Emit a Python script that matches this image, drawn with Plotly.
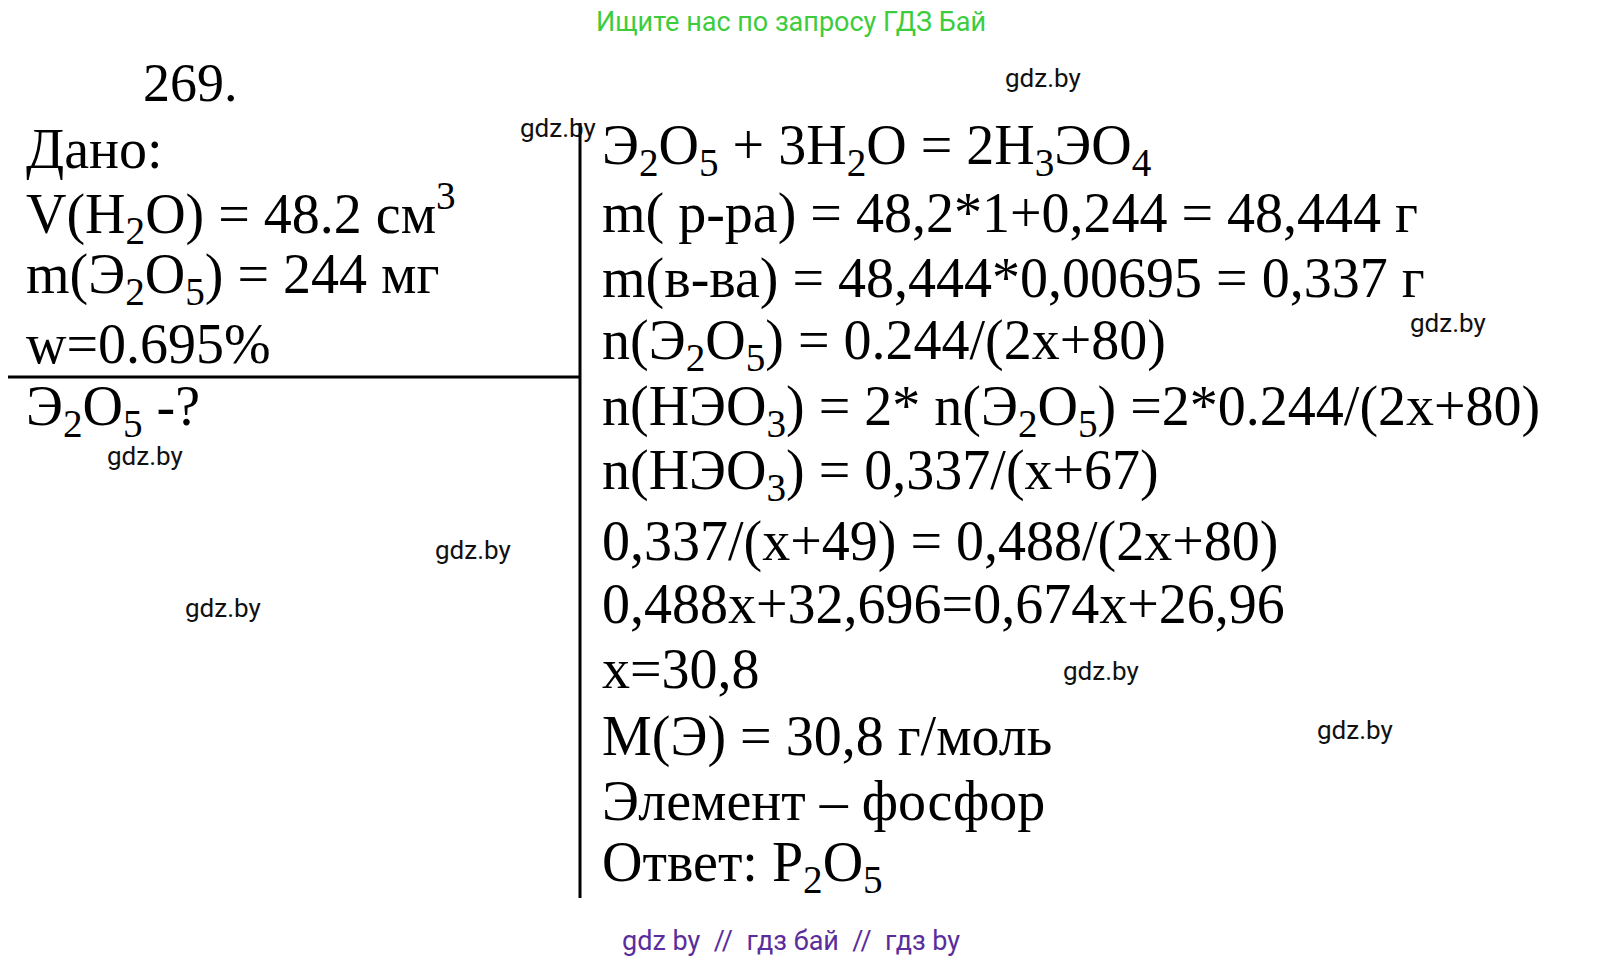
import plotly.graph_objects as go

W, H = 1607, 977

LEFT_LINES = [
    "Дано:",
    "V(H<sub>2</sub>O) = 48.2 см<sup>3</sup>",
    "m(Э<sub>2</sub>O<sub>5</sub>) = 244 мг",
    "w=0.695%",
    "Э<sub>2</sub>O<sub>5</sub> -?",
]
LEFT_Y = [141, 205, 270, 336, 402]

RIGHT_LINES = [
    "Э<sub>2</sub>O<sub>5</sub> + 3H<sub>2</sub>O = 2H<sub>3</sub>ЭO<sub>4</sub>",
    "m( р-ра) = 48,2*1+0,244 = 48,444 г",
    "m(в-ва) = 48,444*0,00695 = 0,337 г",
    "n(Э<sub>2</sub>O<sub>5</sub>) = 0.244/(2x+80)",
    "n(HЭO<sub>3</sub>) = 2* n(Э<sub>2</sub>O<sub>5</sub>) =2*0.244/(2x+80)",
    "n(HЭO<sub>3</sub>) = 0,337/(x+67)",
    "0,337/(x+49) = 0,488/(2x+80)",
    "0,488x+32,696=0,674x+26,96",
    "x=30,8",
    "M(Э) = 30,8 г/моль",
    "Элемент – фосфор",
    "Ответ: P<sub>2</sub>O<sub>5</sub>",
]
RIGHT_Y = [141, 205, 270, 336, 402, 466, 533, 596, 661, 728, 793, 858]

MARKS_X = [550, 1035, 1440, 137, 465, 215, 1093, 1347]
MARKS_Y = [120, 70, 315, 448, 542, 600, 663, 722]

SERIF = "Liberation Serif"
INK = "black"

fig = go.Figure()
anns = []
anns.append(dict(x=133, y=75, text="269.", font=dict(family=SERIF, size=54, color=INK)))
for t, y in zip(LEFT_LINES, LEFT_Y):
    anns.append(dict(x=16, y=y, text=t, font=dict(family=SERIF, size=56, color=INK)))
for t, y in zip(RIGHT_LINES, RIGHT_Y):
    anns.append(dict(x=592, y=y, text=t, font=dict(family=SERIF, size=56, color=INK)))
for a in anns:
    a.update(xanchor="left", yanchor="middle", showarrow=False)
for x, y in zip(MARKS_X, MARKS_Y):
    anns.append(dict(x=x, y=y, text="gdz.by", showarrow=False, xanchor="center",
                     yanchor="middle", font=dict(family="Roboto", size=26, color="#111")))
anns.append(dict(x=783, y=14, text="Ищите нас по запросу ГДЗ Бай", showarrow=False,
                 font=dict(family="Roboto", size=27, color="#3ccc3c")))
anns.append(dict(x=783, y=933, text="gdz by  //  гдз бай  //  гдз by", showarrow=False,
                 font=dict(family="Roboto", size=27, color="#5a2d9c")))

fig.update_layout(
    width=W, height=H, margin=dict(l=0, r=0, t=0, b=0),
    paper_bgcolor="white", plot_bgcolor="white",
    xaxis=dict(range=[0, W], visible=False, fixedrange=True),
    yaxis=dict(range=[H, 0], visible=False, fixedrange=True),
    annotations=anns,
    shapes=[
        dict(type="line", x0=572, x1=572, y0=115, y1=890, line=dict(color="black", width=3)),
        dict(type="line", x0=0, x1=572, y0=369, y1=369, line=dict(color="black", width=3)),
    ],
    showlegend=False,
)
fig.write_html("out.html")
